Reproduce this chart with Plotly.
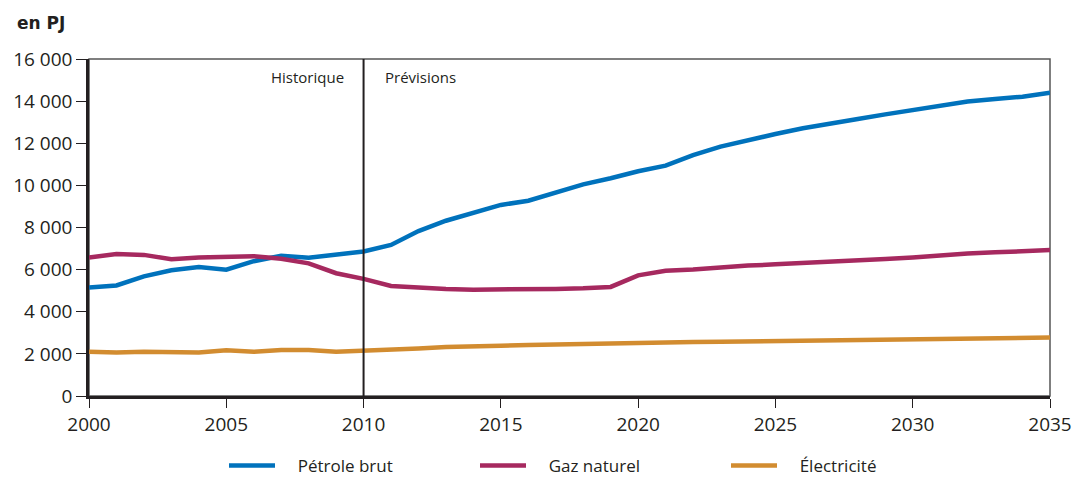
import plotly.graph_objects as go

years = list(range(2000, 2036))

petrole_brut = [5150, 5250, 5680, 5970, 6120, 6000, 6400, 6660, 6570, 6700,
                6860, 7170, 7830, 8320, 8720, 9070, 9270, 9650, 10050, 10340,
                10670, 10940, 11440, 11840, 12160, 12440, 12710, 12950, 13150, 13370,
                13580, 13780, 13980, 14100, 14210, 14400]

gaz_naturel = [6580, 6740, 6700, 6490, 6580, 6620, 6640, 6520, 6300, 5830,
               5560, 5220, 5140, 5080, 5050, 5050, 5050, 5080, 5110, 5180,
               5730, 5950, 6010, 6110, 6190, 6250, 6300, 6350, 6420, 6500,
               6580, 6680, 6760, 6820, 6890, 6930]

electricite = [2100, 2070, 2100, 2070, 2070, 2170, 2100, 2180, 2180, 2100,
               2140, 2230, 2260, 2330, 2340, 2390, 2420, 2450, 2480, 2480,
               2520, 2560, 2560, 2570, 2590, 2610, 2630, 2650, 2660, 2680,
               2690, 2710, 2720, 2740, 2760, 2780]

series = [
    ("Pétrole brut", petrole_brut, "#0072BC"),
    ("Gaz naturel", gaz_naturel, "#A6295F"),
    ("Électricité", electricite, "#D28C30"),
]

FONT = "Open Sans"
INK = "#231F20"
LEGEND_PAD = "&nbsp;" * 4  # extra room between legend key and its label

fig = go.Figure()
for name, values, color in series:
    fig.add_trace(go.Scatter(
        x=years, y=values, name=LEGEND_PAD + name, mode="lines",
        line=dict(color=color, width=4.5),
    ))

# frame around the plotting area
fig.add_shape(type="rect", xref="paper", yref="paper", x0=0, y0=0, x1=1, y1=1,
              line=dict(color="#555555", width=1.5), layer="below")

# split between history and projections
fig.add_shape(type="line", xref="x", yref="paper", x0=2010, x1=2010, y0=0, y1=1,
              line=dict(color=INK, width=2))
fig.add_annotation(x=2010, y=1, xref="x", yref="paper", text="Historique",
                   showarrow=False, xanchor="right", yanchor="middle", xshift=-18, yshift=-18,
                   font=dict(family=FONT, size=15, color=INK))
fig.add_annotation(x=2010, y=1, xref="x", yref="paper", text="Prévisions",
                   showarrow=False, xanchor="left", yanchor="middle", xshift=19, yshift=-18,
                   font=dict(family=FONT, size=15, color=INK))

# unit label above the value axis
fig.add_annotation(x=0, y=1, xref="paper", yref="paper", text="<b>en PJ</b>",
                   showarrow=False, xanchor="left", yanchor="middle", xshift=-74, yshift=36,
                   font=dict(family="DejaVu Sans", size=17, color=INK))

fig.update_layout(
    width=1077, height=478,
    margin=dict(l=89, r=27, t=59, b=82),
    paper_bgcolor="white", plot_bgcolor="white",
    separators=". ",
    font=dict(family=FONT, size=19, color=INK),
    legend=dict(orientation="h", xref="container", yref="container",
                x=224 / 1077, xanchor="left", y=(478 - 466) / 478, yanchor="middle",
                itemwidth=46, entrywidth=190, entrywidthmode="pixels",
                font=dict(family=FONT, size=17, color=INK)),
    xaxis=dict(range=[2000, 2035], tickmode="linear", tick0=2000, dtick=5,
               showgrid=False, zeroline=False, showline=True, linecolor=INK, linewidth=3,
               ticks="outside", ticklen=9, tickcolor=INK, tickwidth=1, automargin=False,
               tickfont=dict(family=FONT, size=19, color=INK)),
    yaxis=dict(range=[0, 16000], tickmode="linear", tick0=0, dtick=2000, tickformat=",d",
               showgrid=False, zeroline=False, showline=True, linecolor=INK, linewidth=2.5,
               ticks="outside", ticklen=10, tickcolor=INK, tickwidth=1, automargin=False,
               tickfont=dict(family=FONT, size=19, color=INK)),
)

fig.write_html("out.html")
